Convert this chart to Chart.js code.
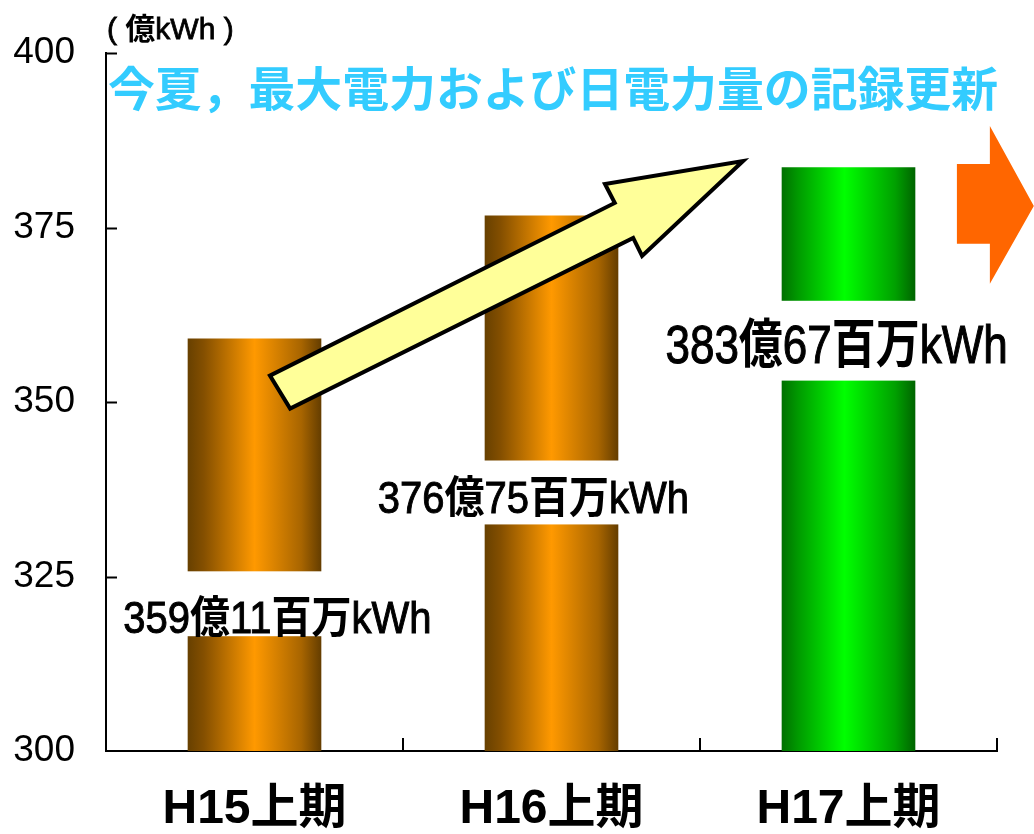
<!DOCTYPE html>
<html lang="ja">
<head>
<meta charset="utf-8">
<title>上期 販売電力量</title>
<script src="https://cdn.jsdelivr.net/npm/chart.js@4.4.1/dist/chart.umd.min.js"></script>
<style>
  html, body { margin: 0; padding: 0; background: #fff; }
  #wrap { width: 1034px; height: 834px; }
</style>
</head>
<body>
<div id="wrap"><canvas id="salesChart" width="1034" height="834"></canvas></div>
<script>
// data (億kWh)
const periods = ['H15上期', 'H16上期', 'H17上期'];
const energy = [359.11, 376.75, 383.67];
const energyLabels = ['359億11百万kWh', '376億75百万kWh', '383億67百万kWh'];
const yTicks = [300, 325, 350, 375, 400];
const unitLabel = '( 億kWh )';
const headline = '今夏，最大電力および日電力量の記録更新';

// look
const barTones = ['orange', 'orange', 'green'];
const labelPlacement = [
  { dx: 0.077, base: 316.9, top: 325.75, bottom: 316.45, size: 40, sy: 1.1 },
  { dx: -0.061, base: 334.05, top: 341.63, bottom: 332.47, size: 40, sy: 1.1 },
  { dx: -0.040, base: 355.65, top: 364.52, bottom: 353.08, size: 44, sy: 1.22 }
];
// arrows in (category index, value) units
const riseArrow = [[0.052, 353.79], [1.213, 378.54], [1.180, 381.26], [1.645, 384.55],
                   [1.305, 370.96], [1.275, 373.53], [0.120, 349.07]];
const nextArrow = [[2.365, 384.12], [2.476, 384.12], [2.476, 389.56], [2.624, 378.11],
                   [2.476, 366.95], [2.476, 372.68], [2.365, 372.68]];

const LATIN = '"Liberation Sans", Arial, sans-serif';
const CJK = '"Noto Sans CJK JP", "Noto Sans CJK SC", sans-serif';
const BAR_PCT = 0.45;

function barGradient(context) {
  const chart = context.chart;
  const tone = barTones[context.dataIndex];
  const fallback = tone === 'green' ? '#00cc00' : '#e08a00';
  if (!chart.chartArea) return fallback;
  const xs = chart.scales.x;
  const cx = xs.getPixelForValue(context.dataIndex);
  const w = (xs.getPixelForValue(1) - xs.getPixelForValue(0)) * BAR_PCT;
  const g = chart.ctx.createLinearGradient(cx - w / 2, 0, cx + w / 2, 0);
  if (tone === 'green') {
    g.addColorStop(0, '#007000');
    g.addColorStop(0.12, '#009900');
    g.addColorStop(0.47, '#00ff00');
    g.addColorStop(0.85, '#00a000');
    g.addColorStop(1, '#006400');
  } else {
    g.addColorStop(0, '#674000');
    g.addColorStop(0.12, '#844f00');
    g.addColorStop(0.5, '#ff9900');
    g.addColorStop(0.85, '#a86500');
    g.addColorStop(1, '#643d00');
  }
  return g;
}

// draw text where kanji are bold gothic and latin is regular
function drawMixed(ctx, text, x, y, size, align, sy, heavy) {
  const re = /[\u3000-\u9fff\uff00-\uffef]/;
  const runs = text.match(/[\u3000-\u9fff\uff00-\uffef]+|[^\u3000-\u9fff\uff00-\uffef]+/g);
  const fontFor = r => re.test(r) ? `bold ${size}px ${CJK}` : `${size}px ${LATIN}`;
  let total = 0;
  runs.forEach(r => { ctx.font = fontFor(r); total += ctx.measureText(r).width; });
  ctx.save();
  ctx.translate(align === 'center' ? x - total / 2 : x, y);
  ctx.scale(1, sy || 1);
  ctx.textAlign = 'left';
  ctx.strokeStyle = ctx.fillStyle;
  ctx.lineWidth = heavy || 0;
  let cx = 0;
  runs.forEach(r => {
    ctx.font = fontFor(r);
    ctx.fillText(r, cx, 0);
    if (heavy && !re.test(r)) ctx.strokeText(r, cx, 0);
    cx += ctx.measureText(r).width;
  });
  ctx.restore();
  return total;
}

function polygon(ctx, pts, xs, ys) {
  ctx.beginPath();
  pts.forEach(([i, v], k) => {
    const px = xs.getPixelForValue(i), py = ys.getPixelForValue(v);
    if (k === 0) ctx.moveTo(px, py); else ctx.lineTo(px, py);
  });
  ctx.closePath();
}

const decorations = {
  id: 'decorations',
  afterDraw(chart) {
    const { ctx, chartArea } = chart;
    const xs = chart.scales.x, ys = chart.scales.y;
    ctx.save();

    // inner tick marks
    ctx.strokeStyle = '#000';
    ctx.lineWidth = 2;
    yTicks.slice(1).forEach(v => {
      const py = Math.round(ys.getPixelForValue(v)) + 0.5;
      ctx.beginPath();
      ctx.moveTo(chartArea.left, py);
      ctx.lineTo(chartArea.left + 11, py);
      ctx.stroke();
    });
    for (let i = 0; i < periods.length; i++) {
      const px = Math.round(xs.getPixelForValue(i + 0.5));
      ctx.beginPath();
      ctx.moveTo(px, chartArea.bottom);
      ctx.lineTo(px, chartArea.bottom - 13);
      ctx.stroke();
    }

    // value labels on white boxes
    ctx.textBaseline = 'alphabetic';
    energyLabels.forEach((label, i) => {
      const p = labelPlacement[i];
      const cx = xs.getPixelForValue(i + p.dx);
      const top = ys.getPixelForValue(p.top), bottom = ys.getPixelForValue(p.bottom);
      const w = (xs.getPixelForValue(1) - xs.getPixelForValue(0)) * BAR_PCT;
      const bx = xs.getPixelForValue(i);
      ctx.fillStyle = '#fff';
      ctx.fillRect(bx - w / 2 - 2, top, w + 4, bottom - top);
      ctx.fillStyle = '#000';
      drawMixed(ctx, label, cx, ys.getPixelForValue(p.base), p.size, 'center', p.sy, 0.9);
    });

    // rising arrow
    polygon(ctx, riseArrow, xs, ys);
    ctx.fillStyle = '#ffff99';
    ctx.fill();
    ctx.lineWidth = 4;
    ctx.lineJoin = 'miter';
    ctx.strokeStyle = '#000';
    ctx.stroke();

    // next arrow at the right
    polygon(ctx, nextArrow, xs, ys);
    ctx.fillStyle = '#ff6600';
    ctx.fill();

    // headline and unit
    ctx.fillStyle = '#33ccff';
    ctx.font = `bold 47px ${CJK}`;
    ctx.textAlign = 'left';
    ctx.textBaseline = 'middle';
    ctx.fillText(headline, chartArea.left + 2, chartArea.top + 35, 890);

    ctx.fillStyle = '#000';
    ctx.textBaseline = 'alphabetic';
    drawMixed(ctx, unitLabel, chartArea.left + 1, chartArea.top - 14, 30, 'left', 1, 0.8);
    ctx.restore();
  }
};

const ctx = document.getElementById('salesChart').getContext('2d');
new Chart(ctx, {
  type: 'bar',
  data: {
    labels: periods,
    datasets: [{
      data: energy,
      backgroundColor: barGradient,
      borderWidth: 0,
      categoryPercentage: 1,
      barPercentage: BAR_PCT
    }]
  },
  options: {
    responsive: false,
    animation: false,
    devicePixelRatio: 1,
    layout: { padding: { top: 52, right: 37, left: 0, bottom: 0 } },
    plugins: { legend: { display: false }, tooltip: { enabled: false } },
    scales: {
      x: {
        grid: { display: false, drawTicks: false },
        border: { display: true, color: '#000', width: 2 },
        ticks: {
          color: '#000',
          padding: 30,
          font: { size: 48, weight: 'bold', family: `${LATIN.replace(', sans-serif', '')}, ${CJK}` }
        },
        afterFit: s => { s.height = 83; }
      },
      y: {
        min: 300,
        max: 400,
        grid: { display: false, drawTicks: false },
        border: { display: true, color: '#000', width: 2 },
        afterBuildTicks: s => { s.ticks = yTicks.map(v => ({ value: v })); },
        ticks: {
          color: '#000',
          padding: 31,
          font: { size: 37, family: LATIN }
        },
        afterFit: s => { s.width = 106; }
      }
    }
  },
  plugins: [decorations]
});
</script>
</body>
</html>
